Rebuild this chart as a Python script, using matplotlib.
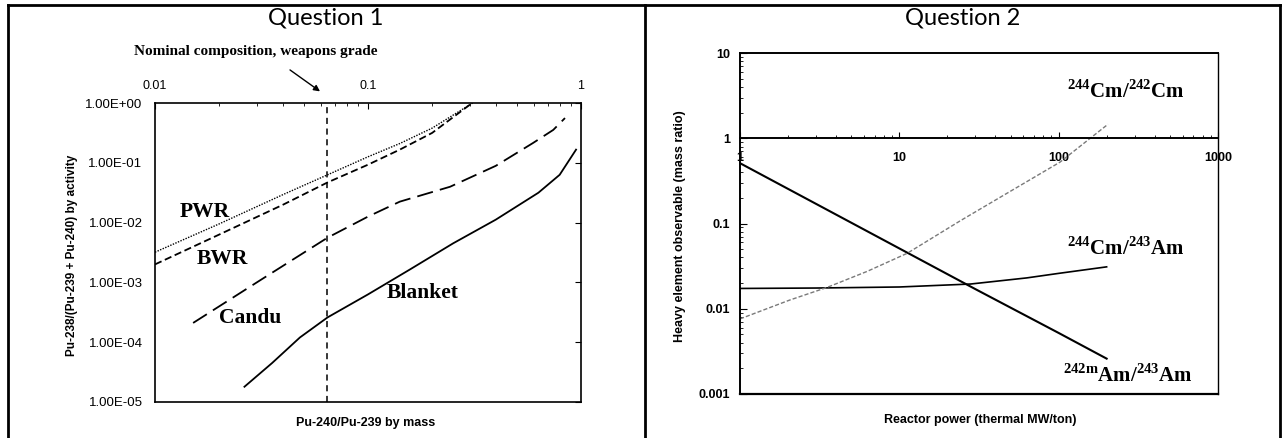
import numpy as np
import matplotlib.pyplot as plt
from matplotlib.lines import Line2D
from matplotlib.ticker import FixedLocator, LogLocator, NullLocator, NullFormatter

plt.rcParams['mathtext.fontset'] = 'custom'
plt.rcParams['mathtext.rm'] = 'Liberation Serif:bold'
plt.rcParams['mathtext.bf'] = 'Liberation Serif:bold'

W, H = 1283, 438

# Question 1 : Pu-238/(Pu-239+Pu-240) by activity vs Pu-240/Pu-239 by mass
pwr_x = [0.01, 0.02, 0.04, 0.0646, 0.1, 0.141, 0.2, 0.31]
pwr_y = [3.2e-3, 9.5e-3, 2.95e-2, 6.3e-2, 0.126, 0.21, 0.38, 1.0]
bwr_x = [0.01, 0.02, 0.04, 0.0646, 0.1, 0.141, 0.2, 0.30]
bwr_y = [2.0e-3, 6.3e-3, 2.0e-2, 4.7e-2, 9.3e-2, 0.166, 0.316, 0.93]
candu_x = [0.0151, 0.0316, 0.0646, 0.1, 0.141, 0.243, 0.398, 0.596, 0.741, 0.841]
candu_y = [2.1e-4, 1.12e-3, 5.6e-3, 1.26e-2, 2.24e-2, 3.98e-2, 8.9e-2, 0.215, 0.355, 0.56]
blanket_x = [0.0263, 0.0355, 0.0479, 0.0646, 0.1, 0.158, 0.251, 0.398, 0.631, 0.794, 0.948]
blanket_y = [1.8e-5, 4.5e-5, 1.2e-4, 2.6e-4, 6.3e-4, 1.66e-3, 4.5e-3, 1.12e-2, 3.16e-2, 6.3e-2, 0.166]
weapons_grade = 0.064

q1_xticks = [0.01, 0.1, 1]
q1_xlabels = ['0.01', '0.1', '1']
q1_yticks = [1e0, 1e-1, 1e-2, 1e-3, 1e-4, 1e-5]
q1_ylabels = ['1.00E+00', '1.00E-01', '1.00E-02', '1.00E-03', '1.00E-04', '1.00E-05']

# Question 2 : heavy element ratios vs reactor power
am242m_x = [1, 10, 30, 100, 200]
am242m_y = [0.51, 0.051, 0.017, 0.0052, 0.0026]
cm243_x = [1, 3, 10, 28, 63, 100, 200]
cm243_y = [0.0173, 0.0175, 0.018, 0.0195, 0.023, 0.026, 0.031]
cm242_x = [1, 2.04, 3.52, 6.3, 11.2, 24.2, 50, 102, 204]
cm242_y = [0.0076, 0.0126, 0.0178, 0.0275, 0.0447, 0.108, 0.24, 0.525, 1.46]

q2_xticks = [1, 10, 100, 1000]
q2_xlabels = ['1', '10', '100', '1000']
q2_yticks = [10, 1, 0.1, 0.01, 0.001]
q2_ylabels = ['10', '1', '0.1', '0.01', '0.001']


def fx(x):
    return x / W


def fy(y):
    return 1 - y / H


fig = plt.figure(figsize=(W / 100, H / 100), dpi=100)

# table frame
for (x0, y0, x1, y1) in [(8, 5, 1280, 5), (8, 5, 8, 438), (645, 5, 645, 438), (1280, 5, 1280, 438)]:
    fig.add_artist(Line2D([fx(x0), fx(x1)], [fy(y0), fy(y1)], color='k', lw=2))
fig.text(fx(326), fy(18), 'Question 1', family='Lato', fontsize=17, ha='center', va='center')
fig.text(fx(963), fy(18), 'Question 2', family='Lato', fontsize=17, ha='center', va='center')

# ---- chart 1
ax1 = fig.add_axes([fx(155), fy(402), (581 - 155) / W, (402 - 103) / H])
ax1.set_xscale('log')
ax1.set_yscale('log')
ax1.set_xlim(0.01, 1)
ax1.set_ylim(1e-5, 1)
for s in ax1.spines.values():
    s.set_linewidth(1.2)

ax1.plot(pwr_x, pwr_y, color='k', lw=1.0, ls=(0, (1, 1)))
ax1.plot(bwr_x, bwr_y, color='k', lw=1.3, ls=(0, (4, 2)))
ax1.plot(candu_x, candu_y, color='k', lw=1.3, ls=(0, (9, 4)))
ax1.plot(blanket_x, blanket_y, color='k', lw=1.3)
ax1.axvline(weapons_grade, color='k', lw=1.1, ls=(0, (4, 3)))

ax1.xaxis.tick_top()
ax1.xaxis.set_major_locator(FixedLocator(q1_xticks))
ax1.set_xticklabels(q1_xlabels)
ax1.xaxis.set_minor_locator(LogLocator(base=10, subs=np.arange(2, 10)))
ax1.xaxis.set_minor_formatter(NullFormatter())
ax1.tick_params(axis='x', which='both', top=True, bottom=False, direction='in',
                labelsize=9, pad=8)
ax1.tick_params(axis='x', which='major', length=4)
ax1.tick_params(axis='x', which='minor', length=2.5)
ax1.yaxis.set_major_locator(FixedLocator(q1_yticks))
ax1.set_yticklabels(q1_ylabels)
ax1.yaxis.set_minor_locator(NullLocator())
ax1.tick_params(axis='y', which='major', left=False, right=True, labelleft=True,
                direction='in', length=4, labelsize=9.5, pad=9)
for lab in ax1.get_xticklabels() + ax1.get_yticklabels():
    lab.set_family('Liberation Sans')

serif = dict(family='Liberation Serif', weight='bold', fontsize=15.5, ha='center', va='center')
ax1.text(0.0172, 0.0152, 'PWR', **serif)
ax1.text(0.0207, 0.0025, 'BWR', **serif)
ax1.text(0.0279, 2.5e-4, 'Candu', **serif)
ax1.text(0.181, 6.6e-4, 'Blanket', **serif)

ax1.annotate('', xy=(0.061, 1.47), xytext=(0.042, 3.8), annotation_clip=False,
             arrowprops=dict(arrowstyle='-|>', color='k', lw=1.0, mutation_scale=9))
fig.text(fx(256), fy(52), 'Nominal composition, weapons grade', family='Liberation Serif',
         weight='bold', fontsize=11, ha='center', va='center')
fig.text(fx(72), fy(255), 'Pu-238/(Pu-239 + Pu-240) by activity', family='Liberation Sans',
         weight='bold', fontsize=8.5, rotation=90, ha='center', va='center')
fig.text(fx(366), fy(423), 'Pu-240/Pu-239 by mass', family='Liberation Sans',
         weight='bold', fontsize=9, ha='center', va='center')

# ---- chart 2
ax2 = fig.add_axes([fx(740), fy(394), (1218 - 740) / W, (394 - 53) / H])
ax2.set_xscale('log')
ax2.set_yscale('log')
ax2.set_xlim(1, 1000)
ax2.set_ylim(0.001, 10)
for s in ax2.spines.values():
    s.set_linewidth(1.4)
ax2.spines['right'].set_linewidth(1.0)
ax2.spines['bottom'].set_position(('data', 1))
ax2.axhline(0.001, color='k', lw=1.6, clip_on=False)

ax2.plot(am242m_x, am242m_y, color='k', lw=1.5)
ax2.plot(cm243_x, cm243_y, color='k', lw=1.2)
ax2.plot(cm242_x, cm242_y, color='#7a7a7a', lw=1.0, ls=(0, (3, 1.5)))

ax2.xaxis.set_major_locator(FixedLocator(q2_xticks))
ax2.set_xticklabels(q2_xlabels)
ax2.xaxis.set_minor_locator(LogLocator(base=10, subs=np.arange(2, 10)))
ax2.xaxis.set_minor_formatter(NullFormatter())
ax2.tick_params(axis='x', which='both', direction='in', labelsize=9, pad=10)
ax2.tick_params(axis='x', which='major', length=4)
ax2.tick_params(axis='x', which='minor', length=2)
ax2.yaxis.set_major_locator(FixedLocator(q2_yticks))
ax2.set_yticklabels(q2_ylabels)
ax2.yaxis.set_minor_locator(LogLocator(base=10, subs=np.arange(2, 10)))
ax2.yaxis.set_minor_formatter(NullFormatter())
ax2.tick_params(axis='y', which='both', left=True, right=False, direction='in',
                labelsize=9, pad=7)
ax2.tick_params(axis='y', which='major', length=5)
ax2.tick_params(axis='y', which='minor', length=2.5)
for lab in ax2.get_xticklabels() + ax2.get_yticklabels():
    lab.set_family('Liberation Sans')
    lab.set_weight('bold')

iso = dict(family='Liberation Serif', weight='bold', fontsize=15, ha='center', va='center')
ax2.text(265, 3.5, r'$^{244}$Cm/$^{242}$Cm', **iso)
ax2.text(265, 0.051, r'$^{244}$Cm/$^{243}$Am', **iso)
ax2.text(274, 0.00166, r'$^{\mathrm{242m}}$Am/$^{243}$Am', **iso)

fig.text(fx(680), fy(226), 'Heavy element observable (mass ratio)', family='Liberation Sans',
         weight='bold', fontsize=9, rotation=90, ha='center', va='center')
fig.text(fx(980), fy(420), 'Reactor power (thermal MW/ton)', family='Liberation Sans',
         weight='bold', fontsize=9, ha='center', va='center')

fig.savefig('out.png', dpi=100)
